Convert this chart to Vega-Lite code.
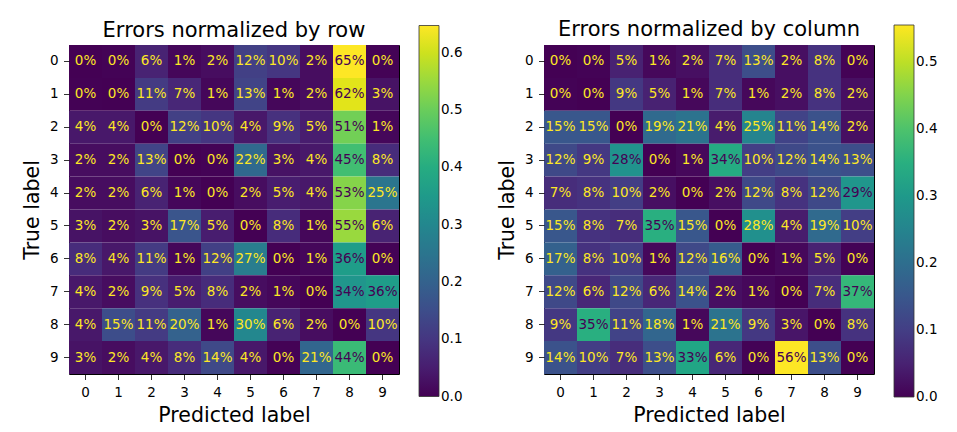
{
  "$schema": "https://vega.github.io/schema/vega-lite/v6.json",
  "padding": {"left": 21, "top": 18, "right": 5, "bottom": 5},
  "spacing": 32,
  "datasets": {
    "row": [
      {"t":0,"p":0,"v":0},{"t":0,"p":1,"v":0.003},{"t":0,"p":2,"v":0.06},{"t":0,"p":3,"v":0.01},{"t":0,"p":4,"v":0.02},{"t":0,"p":5,"v":0.12},{"t":0,"p":6,"v":0.10},{"t":0,"p":7,"v":0.02},{"t":0,"p":8,"v":0.648},{"t":0,"p":9,"v":0.003},
      {"t":1,"p":0,"v":0.002},{"t":1,"p":1,"v":0},{"t":1,"p":2,"v":0.11},{"t":1,"p":3,"v":0.07},{"t":1,"p":4,"v":0.01},{"t":1,"p":5,"v":0.13},{"t":1,"p":6,"v":0.01},{"t":1,"p":7,"v":0.02},{"t":1,"p":8,"v":0.62},{"t":1,"p":9,"v":0.03},
      {"t":2,"p":0,"v":0.04},{"t":2,"p":1,"v":0.04},{"t":2,"p":2,"v":0},{"t":2,"p":3,"v":0.12},{"t":2,"p":4,"v":0.10},{"t":2,"p":5,"v":0.04},{"t":2,"p":6,"v":0.09},{"t":2,"p":7,"v":0.05},{"t":2,"p":8,"v":0.51},{"t":2,"p":9,"v":0.01},
      {"t":3,"p":0,"v":0.02},{"t":3,"p":1,"v":0.02},{"t":3,"p":2,"v":0.13},{"t":3,"p":3,"v":0},{"t":3,"p":4,"v":0.003},{"t":3,"p":5,"v":0.22},{"t":3,"p":6,"v":0.03},{"t":3,"p":7,"v":0.04},{"t":3,"p":8,"v":0.45},{"t":3,"p":9,"v":0.08},
      {"t":4,"p":0,"v":0.02},{"t":4,"p":1,"v":0.02},{"t":4,"p":2,"v":0.06},{"t":4,"p":3,"v":0.01},{"t":4,"p":4,"v":0},{"t":4,"p":5,"v":0.02},{"t":4,"p":6,"v":0.05},{"t":4,"p":7,"v":0.04},{"t":4,"p":8,"v":0.53},{"t":4,"p":9,"v":0.25},
      {"t":5,"p":0,"v":0.03},{"t":5,"p":1,"v":0.02},{"t":5,"p":2,"v":0.03},{"t":5,"p":3,"v":0.17},{"t":5,"p":4,"v":0.05},{"t":5,"p":5,"v":0},{"t":5,"p":6,"v":0.08},{"t":5,"p":7,"v":0.01},{"t":5,"p":8,"v":0.55},{"t":5,"p":9,"v":0.06},
      {"t":6,"p":0,"v":0.08},{"t":6,"p":1,"v":0.04},{"t":6,"p":2,"v":0.11},{"t":6,"p":3,"v":0.01},{"t":6,"p":4,"v":0.12},{"t":6,"p":5,"v":0.27},{"t":6,"p":6,"v":0},{"t":6,"p":7,"v":0.01},{"t":6,"p":8,"v":0.36},{"t":6,"p":9,"v":0.003},
      {"t":7,"p":0,"v":0.04},{"t":7,"p":1,"v":0.02},{"t":7,"p":2,"v":0.09},{"t":7,"p":3,"v":0.05},{"t":7,"p":4,"v":0.08},{"t":7,"p":5,"v":0.02},{"t":7,"p":6,"v":0.01},{"t":7,"p":7,"v":0},{"t":7,"p":8,"v":0.34},{"t":7,"p":9,"v":0.36},
      {"t":8,"p":0,"v":0.04},{"t":8,"p":1,"v":0.15},{"t":8,"p":2,"v":0.11},{"t":8,"p":3,"v":0.20},{"t":8,"p":4,"v":0.01},{"t":8,"p":5,"v":0.30},{"t":8,"p":6,"v":0.06},{"t":8,"p":7,"v":0.02},{"t":8,"p":8,"v":0},{"t":8,"p":9,"v":0.10},
      {"t":9,"p":0,"v":0.03},{"t":9,"p":1,"v":0.02},{"t":9,"p":2,"v":0.04},{"t":9,"p":3,"v":0.08},{"t":9,"p":4,"v":0.14},{"t":9,"p":5,"v":0.04},{"t":9,"p":6,"v":0.003},{"t":9,"p":7,"v":0.21},{"t":9,"p":8,"v":0.44},{"t":9,"p":9,"v":0}
    ],
    "col": [
      {"t":0,"p":0,"v":0},{"t":0,"p":1,"v":0.003},{"t":0,"p":2,"v":0.05},{"t":0,"p":3,"v":0.01},{"t":0,"p":4,"v":0.02},{"t":0,"p":5,"v":0.07},{"t":0,"p":6,"v":0.13},{"t":0,"p":7,"v":0.02},{"t":0,"p":8,"v":0.08},{"t":0,"p":9,"v":0.003},
      {"t":1,"p":0,"v":0.003},{"t":1,"p":1,"v":0},{"t":1,"p":2,"v":0.09},{"t":1,"p":3,"v":0.05},{"t":1,"p":4,"v":0.01},{"t":1,"p":5,"v":0.07},{"t":1,"p":6,"v":0.01},{"t":1,"p":7,"v":0.02},{"t":1,"p":8,"v":0.08},{"t":1,"p":9,"v":0.02},
      {"t":2,"p":0,"v":0.15},{"t":2,"p":1,"v":0.15},{"t":2,"p":2,"v":0},{"t":2,"p":3,"v":0.19},{"t":2,"p":4,"v":0.21},{"t":2,"p":5,"v":0.04},{"t":2,"p":6,"v":0.25},{"t":2,"p":7,"v":0.11},{"t":2,"p":8,"v":0.14},{"t":2,"p":9,"v":0.02},
      {"t":3,"p":0,"v":0.12},{"t":3,"p":1,"v":0.09},{"t":3,"p":2,"v":0.282},{"t":3,"p":3,"v":0},{"t":3,"p":4,"v":0.01},{"t":3,"p":5,"v":0.34},{"t":3,"p":6,"v":0.10},{"t":3,"p":7,"v":0.12},{"t":3,"p":8,"v":0.14},{"t":3,"p":9,"v":0.13},
      {"t":4,"p":0,"v":0.07},{"t":4,"p":1,"v":0.08},{"t":4,"p":2,"v":0.10},{"t":4,"p":3,"v":0.02},{"t":4,"p":4,"v":0},{"t":4,"p":5,"v":0.02},{"t":4,"p":6,"v":0.12},{"t":4,"p":7,"v":0.08},{"t":4,"p":8,"v":0.12},{"t":4,"p":9,"v":0.29},
      {"t":5,"p":0,"v":0.15},{"t":5,"p":1,"v":0.08},{"t":5,"p":2,"v":0.07},{"t":5,"p":3,"v":0.35},{"t":5,"p":4,"v":0.15},{"t":5,"p":5,"v":0},{"t":5,"p":6,"v":0.276},{"t":5,"p":7,"v":0.04},{"t":5,"p":8,"v":0.19},{"t":5,"p":9,"v":0.10},
      {"t":6,"p":0,"v":0.17},{"t":6,"p":1,"v":0.08},{"t":6,"p":2,"v":0.10},{"t":6,"p":3,"v":0.01},{"t":6,"p":4,"v":0.12},{"t":6,"p":5,"v":0.16},{"t":6,"p":6,"v":0},{"t":6,"p":7,"v":0.01},{"t":6,"p":8,"v":0.05},{"t":6,"p":9,"v":0.003},
      {"t":7,"p":0,"v":0.12},{"t":7,"p":1,"v":0.06},{"t":7,"p":2,"v":0.12},{"t":7,"p":3,"v":0.06},{"t":7,"p":4,"v":0.14},{"t":7,"p":5,"v":0.02},{"t":7,"p":6,"v":0.01},{"t":7,"p":7,"v":0},{"t":7,"p":8,"v":0.07},{"t":7,"p":9,"v":0.37},
      {"t":8,"p":0,"v":0.09},{"t":8,"p":1,"v":0.35},{"t":8,"p":2,"v":0.11},{"t":8,"p":3,"v":0.18},{"t":8,"p":4,"v":0.01},{"t":8,"p":5,"v":0.21},{"t":8,"p":6,"v":0.09},{"t":8,"p":7,"v":0.03},{"t":8,"p":8,"v":0},{"t":8,"p":9,"v":0.08},
      {"t":9,"p":0,"v":0.14},{"t":9,"p":1,"v":0.10},{"t":9,"p":2,"v":0.07},{"t":9,"p":3,"v":0.13},{"t":9,"p":4,"v":0.33},{"t":9,"p":5,"v":0.06},{"t":9,"p":6,"v":0.003},{"t":9,"p":7,"v":0.556},{"t":9,"p":8,"v":0.13},{"t":9,"p":9,"v":0}
    ]
  },
  "hconcat": [
    {
      "data": {"name": "row"},
      "width": 330,
      "height": 329,
      "title": {"text": "Errors normalized by row", "frame": "group", "baseline": "alphabetic", "offset": -32},
      "encoding": {
        "x": {"field": "p", "type": "ordinal", "title": "Predicted label", "scale": {"paddingInner": 0, "paddingOuter": 0}},
        "y": {"field": "t", "type": "ordinal", "title": "True label", "scale": {"paddingInner": 0, "paddingOuter": 0}}
      },
      "layer": [
        {
          "mark": {"type": "rect"},
          "encoding": {
            "color": {
              "field": "v", "type": "quantitative",
              "scale": {"type": "linear", "scheme": "viridis", "domain": [0, 0.648], "nice": false, "zero": false},
              "legend": {"orient": "none", "legendX": 350, "legendY": -19.5, "gradientLength": 371, "values": [0, 0.1, 0.2, 0.3, 0.4, 0.5, 0.6], "format": ".1f", "title": null, "direction": "vertical",
                "encode": {"labels": {"update": {"baseline": {"value": "middle"}}}}}
            }
          }
        },
        {
          "mark": {"type": "text", "fontSize": 13.5},
          "encoding": {
            "text": {"field": "v", "type": "quantitative", "format": ".0%"},
            "color": {"condition": {"test": "datum.v > 0.324", "value": "#440154"}, "value": "#fde725"}
          }
        }
      ]
    },
    {
      "data": {"name": "col"},
      "width": 330,
      "height": 329,
      "title": {"text": "Errors normalized by column", "frame": "group", "baseline": "alphabetic", "offset": -32},
      "encoding": {
        "x": {"field": "p", "type": "ordinal", "title": "Predicted label", "scale": {"paddingInner": 0, "paddingOuter": 0}},
        "y": {"field": "t", "type": "ordinal", "title": "True label", "scale": {"paddingInner": 0, "paddingOuter": 0}}
      },
      "layer": [
        {
          "mark": {"type": "rect"},
          "encoding": {
            "color": {
              "field": "v", "type": "quantitative",
              "scale": {"type": "linear", "scheme": "viridis", "domain": [0, 0.556], "nice": false, "zero": false},
              "legend": {"orient": "none", "legendX": 350, "legendY": -20, "gradientLength": 372, "values": [0, 0.1, 0.2, 0.3, 0.4, 0.5], "format": ".1f", "title": null, "direction": "vertical",
                "encode": {"labels": {"update": {"baseline": {"value": "middle"}}}}}
            }
          }
        },
        {
          "mark": {"type": "text", "fontSize": 13.5},
          "encoding": {
            "text": {"field": "v", "type": "quantitative", "format": ".0%"},
            "color": {"condition": {"test": "datum.v > 0.278", "value": "#440154"}, "value": "#fde725"}
          }
        }
      ]
    }
  ],
  "resolve": {"scale": {"color": "independent", "x": "independent", "y": "independent"}, "legend": {"color": "independent"}},
  "config": {
    "font": "DejaVu Sans",
    "view": {"stroke": "#000000", "strokeWidth": 1},
    "title": {"fontSize": 21, "fontWeight": "normal", "color": "#000000", "font": "DejaVu Sans"},
    "axis": {
      "domain": false, "grid": false,
      "tickColor": "#000000", "tickSize": 5.5, "tickWidth": 0.8,
      "labelFontSize": 13.5, "labelColor": "#000000", "labelPadding": 5.5, "labelAngle": 0,
      "titleFontSize": 20.5, "titleFontWeight": "normal", "titleColor": "#000000", "titlePadding": 7
    },
    "legend": {
      "gradientThickness": 20, "gradientStrokeColor": "#333333", "gradientStrokeWidth": 0.8,
      "labelFontSize": 13.5, "labelColor": "#000000", "labelOffset": 7, "labelBaseline": "middle", "labelOverlap": false
    }
  }
}
